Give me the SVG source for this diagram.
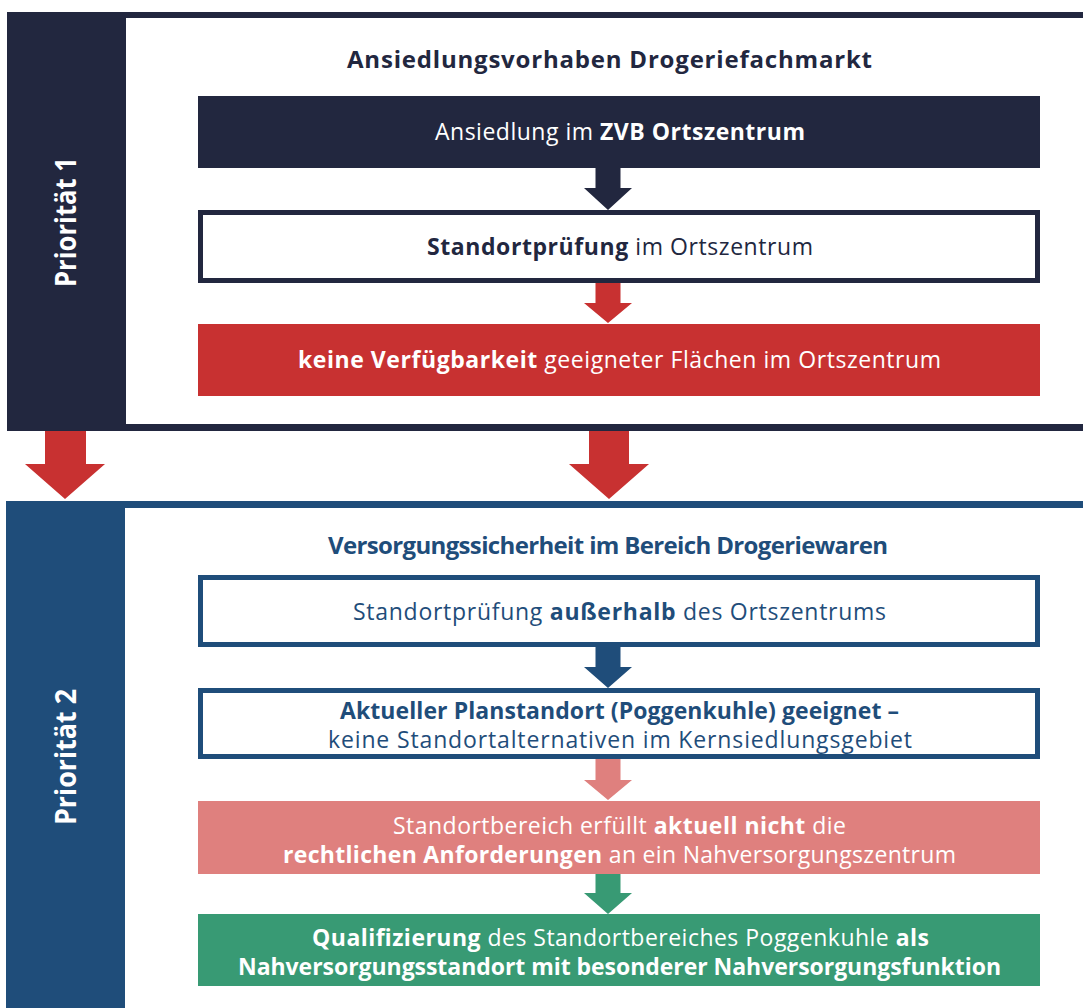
<svg xmlns="http://www.w3.org/2000/svg" width="1083" height="1008" viewBox="0 0 1083 1008">
  <style>
    text { font-family: "Open Sans", "Liberation Sans", sans-serif; }
    .t { font-size: 23px; font-weight: 400; }
    .b { font-weight: 700; }
    .title { font-size: 24px; font-weight: 700; }
    .side { font-size: 29px; font-weight: 700; fill: #ffffff; }
    .w { fill: #ffffff; }
    .nv { fill: #22273f; }
    .bl { fill: #1f4d7a; }
  </style>
  <rect x="0" y="0" width="1083" height="1008" fill="#ffffff"/>

  <!-- Priority 1 frame -->
  <g id="frame-prio1">
    <rect x="7" y="12" width="1090" height="419" fill="#22273f"/>
    <rect x="126" y="18" width="970" height="406" fill="#ffffff"/>
    <text class="side" transform="translate(76,222) rotate(-90)" text-anchor="middle" textLength="130" lengthAdjust="spacingAndGlyphs">Priorität 1</text>
    <text class="title nv" x="347" y="68" textLength="525">Ansiedlungsvorhaben Drogeriefachmarkt</text>
  </g>

  <!-- Priority 2 frame -->
  <g id="frame-prio2">
    <rect x="6" y="501" width="1090" height="520" fill="#1f4d7a"/>
    <rect x="125" y="508" width="970" height="510" fill="#ffffff"/>
    <text class="side" transform="translate(76,757) rotate(-90)" text-anchor="middle" textLength="136" lengthAdjust="spacingAndGlyphs">Priorität 2</text>
    <text class="title bl" x="328" y="554" textLength="560">Versorgungssicherheit im Bereich Drogeriewaren</text>
  </g>

  <!-- Nodes -->
  <g id="node-ansiedlung">
    <rect x="198" y="96" width="842" height="72" fill="#22273f"/>
    <text class="t w" x="435" y="140" textLength="370">Ansiedlung im <tspan class="b">ZVB Ortszentrum</tspan></text>
  </g>
  <g id="node-standortpruefung">
    <rect x="200.5" y="212.5" width="837" height="68" fill="#ffffff" stroke="#22273f" stroke-width="5"/>
    <text class="t nv" x="427" y="255" textLength="386"><tspan class="b">Standortprüfung</tspan> im Ortszentrum</text>
  </g>
  <g id="node-keine-verfuegbarkeit">
    <rect x="198" y="324" width="842" height="72" fill="#c83131"/>
    <text class="t w" x="298" y="368" textLength="643"><tspan class="b">keine Verfügbarkeit</tspan> geeigneter Flächen im Ortszentrum</text>
  </g>
  <g id="node-ausserhalb">
    <rect x="200.5" y="577.5" width="837" height="67" fill="#ffffff" stroke="#1f4d7a" stroke-width="5"/>
    <text class="t bl" x="353" y="620" textLength="533">Standortprüfung <tspan class="b">außerhalb</tspan> des Ortszentrums</text>
  </g>
  <g id="node-planstandort">
    <rect x="200.5" y="690.5" width="837" height="66" fill="#ffffff" stroke="#1f4d7a" stroke-width="5"/>
    <text class="t bl b" x="340" y="719" textLength="559">Aktueller Planstandort (Poggenkuhle) geeignet –</text>
    <text class="t bl" x="328" y="748" textLength="584">keine Standortalternativen im Kernsiedlungsgebiet</text>
  </g>
  <g id="node-anforderungen">
    <rect x="198" y="801" width="842" height="73" fill="#df807e"/>
    <text class="t w" x="393" y="834" textLength="453">Standortbereich erfüllt <tspan class="b">aktuell nicht</tspan> die</text>
    <text class="t w" x="283" y="863" textLength="673"><tspan class="b">rechtlichen Anforderungen</tspan> an ein Nahversorgungszentrum</text>
  </g>
  <g id="node-qualifizierung">
    <rect x="198" y="914" width="842" height="72" fill="#389a74"/>
    <text class="t w" x="312" y="946" textLength="617"><tspan class="b">Qualifizierung</tspan> des Standortbereiches Poggenkuhle <tspan class="b">als</tspan></text>
    <text class="t w b" x="238" y="975" textLength="763">Nahversorgungsstandort mit besonderer Nahversorgungsfunktion</text>
  </g>

  <!-- Connectors -->
  <g id="connectors">
    <polygon fill="#22273f" points="595.5,168 620.5,168 620.5,188 632,188 608,210 584,188 595.5,188"/>
    <polygon fill="#c83131" points="595.5,283 620.5,283 620.5,303 632,303 608,323 584,303 595.5,303"/>
    <polygon fill="#c83131" points="45,431 86,431 86,464 105,464 65,499 25,464 45,464"/>
    <polygon fill="#c83131" points="589,431 629,431 629,464 649,464 609,499 569,464 589,464"/>
    <polygon fill="#1f4d7a" points="595.5,647 620.5,647 620.5,667 632,667 608,688 584,667 595.5,667"/>
    <polygon fill="#df807e" points="595.5,759 620.5,759 620.5,780 632,780 608,800 584,780 595.5,780"/>
    <polygon fill="#389a74" points="595.5,874 620.5,874 620.5,893 632,893 608,914 584,893 595.5,893"/>
  </g>
</svg>
